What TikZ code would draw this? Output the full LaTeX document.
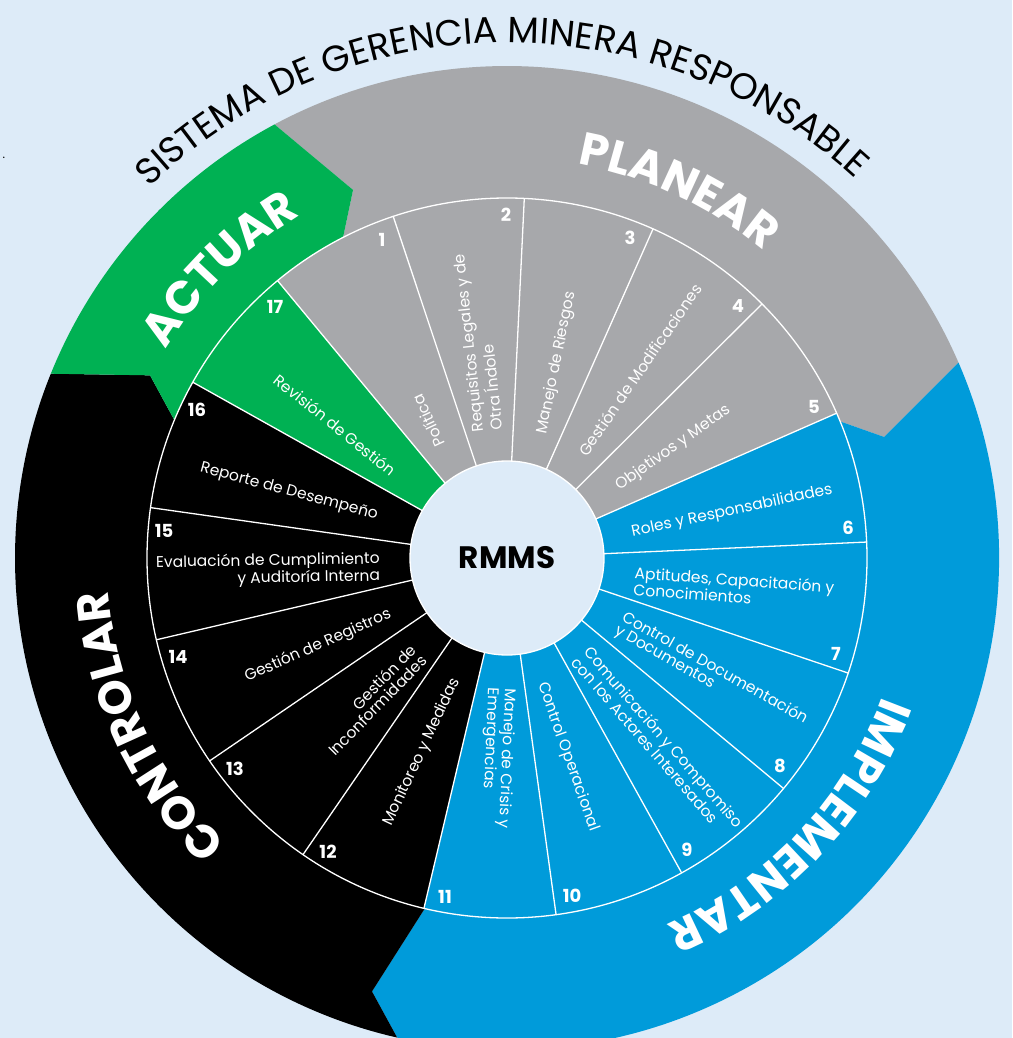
\documentclass[tikz,border=0pt]{standalone}
\usepackage{fontspec}
\setmainfont{Poppins}
\usetikzlibrary{decorations.text}
\definecolor{bgblue}{HTML}{DDEBF8}
\definecolor{segGray}{HTML}{A7A8AB}
\definecolor{segGreen}{HTML}{00B153}
\definecolor{segBlue}{HTML}{009BDA}
\newcommand\mytitlef{\fontsize{36.5}{37}\selectfont}
\newcommand\mybigf{\fontsize{46}{46}\selectfont\bfseries}
\newcommand\mylblf{\fontsize{15.5}{15}\selectfont}
\newcommand\mynumf{\fontsize{18}{18}\selectfont\bfseries}
\begin{document}
\begin{tikzpicture}[x=1pt,y=1pt,
  lbl/.style={text=white,font=\mylblf,inner sep=0pt},
  num/.style={text=white,font=\mynumf,inner sep=0pt},
  segline/.style={white,line width=1.3pt}]
\useasboundingbox (0,0) rectangle (1012,-1038);
\fill[bgblue] (0,0) rectangle (1012,-1038);
\clip (0,0) rectangle (1012,-1038);
\begin{scope}[shift={(507,-558)}]
  % outer ring sectors
  \fill[segGray] (118.2:492) arc[start angle=118.2,end angle=23.4,radius=492] -- (17.8:396) -- (22.3:360) arc[start angle=22.3,end angle=117.1,radius=360] -- (112.7:399) -- cycle;
  \fill[segBlue] (23.4:492) arc[start angle=23.4,end angle=-102.9,radius=492] -- (-107.3:454) -- (-103.2:360) arc[start angle=-103.2,end angle=22.3,radius=360] -- (17.8:396) -- cycle;
  \fill[black] (-102.9:492) arc[start angle=-102.9,end angle=-202,radius=492] -- (-207.1:401) -- (-202.5:360) arc[start angle=-202.5,end angle=-103.2,radius=360] -- (-107.3:454) -- cycle;
  \fill[segGreen] (158:492) arc[start angle=158,end angle=118.2,radius=492] -- (112.7:399) -- (117.1:360) arc[start angle=117.1,end angle=157.5,radius=360] -- (152.9:401) -- cycle;
  % inner ring segments
  \foreach \k/\c in {1/segGray,2/segGray,3/segGray,4/segGray,5/segGray,6/segBlue,7/segBlue,8/segBlue,9/segBlue,10/segBlue,11/segBlue,12/black,13/black,14/black,15/black,16/black,17/segGreen}{
    \pgfmathsetmacro\s{129.6-(\k-1)*360/17}
    \pgfmathsetmacro\e{129.6-\k*360/17}
    \fill[\c] (\s:90) -- (\s:360) arc[start angle=\s,end angle=\e,radius=360] -- (\e:90) arc[start angle=\e,end angle=\s,radius=90] -- cycle;
  }
  \foreach \k in {0,...,16}{
    \pgfmathsetmacro\b{129.6-\k*360/17}
    \draw[segline] (\b:97) -- (\b:360);
  }
  \draw[segline] (0,0) circle (360);
  \fill[bgblue] (0,0) circle (97);
  \draw[segline] (0,0) circle (97);
  % curved texts
  \path[decorate,decoration={text along path,text align=center,text={|\mytitlef|SISTEMA DE GERENCIA MINERA RESPONSABLE}}] (150.7:515) arc[start angle=150.7,end angle=30.7,radius=515];
  \path[decorate,decoration={text along path,text align=center,text color=white,text={|\mybigf|PLANEAR}}] (125:400) arc[start angle=125,end angle=5,radius=400];
  \path[decorate,decoration={text along path,text align=center,text color=white,text={|\mybigf|ACTUAR}}] (194.8:400) arc[start angle=194.8,end angle=74.8,radius=400];
  \path[decorate,decoration={text along path,text align=center,text color=white,text={|\mybigf|IMPLEMENTAR}}] (16.6:400) arc[start angle=16.6,end angle=-103.4,radius=400];
  \path[decorate,decoration={text along path,text align=center,text color=white,text={|\mybigf|CONTROLAR}}] (265.1:400) arc[start angle=265.1,end angle=145.1,radius=400];
\end{scope}
\node[font=\fontsize{31}{31}\selectfont\bfseries,text=black] (rmms) at (507,-558) {RMMS};
\node[font=\fontsize{12}{12}\selectfont,inner sep=0pt] (dot) at (4,-158) {.};
% segment labels
\node[lbl,rotate=115] (t1) at (428,-421) {Política};
\node[lbl,rotate=96,align=left] (t2) at (478,-342) {Requisitos Legales y de\\Otra Índole};
\node[lbl,rotate=78.5] (t3) at (557,-363) {Manejo de Riesgos};
\node[lbl,rotate=55.5] (t4) at (640,-370) {Gestión de Modificaciones};
\node[lbl,rotate=35.3] (t5) at (673,-448) {Objetivos y Metas};
\node[lbl,rotate=12] (t6) at (732,-511) {Roles y Responsabilidades};
\node[lbl,rotate=-4,align=left] (t7) at (734,-588) {Aptitudes, Capacitación y\\Conocimientos};
\node[lbl,rotate=-29.5,align=left] (t8) at (711,-675) {Control de Documentación\\y Documentos};
\node[lbl,rotate=-49,align=left] (t9) at (658,-742) {Comunicación y Compromiso\\con los Actores Interesados};
\node[lbl,rotate=-70.4] (t10) at (568,-757) {Control Operacional};
\node[lbl,rotate=-92.5,align=left] (t11) at (498,-758) {Manejo de Crisis y\\Emergencias};
\node[lbl,rotate=64.8] (t12) at (422,-752) {Monitoreo y Medidas};
\node[lbl,rotate=45.5,align=right] (t13) at (372,-700) {Gestión de\\Inconformidades};
\node[lbl,rotate=24] (t14) at (318,-646) {Gestión de Registros};
\node[lbl,rotate=1,align=right] (t15) at (268,-570) {Evaluación de Cumplimiento\\y Auditoría Interna};
\node[lbl,rotate=-15] (t16) at (289,-492) {Reporte de Desempeño};
\node[lbl,rotate=-38.7] (t17) at (335,-425) {Revisión de Gestión};
% numbers
\node[num] (n1) at (382,-240) {1};
\node[num] (n2) at (506,-215) {2};
\node[num] (n3) at (630,-238) {3};
\node[num] (n4) at (738,-306) {4};
\node[num] (n5) at (814,-407) {5};
\node[num] (n6) at (848,-528) {6};
\node[num] (n7) at (836,-654) {7};
\node[num] (n8) at (780,-766) {8};
\node[num] (n9) at (687,-850) {9};
\node[num] (n10) at (572,-896) {10};
\node[num] (n11) at (445,-897) {11};
\node[num] (n12) at (328,-852) {12};
\node[num] (n13) at (235,-769) {13};
\node[num] (n14) at (178,-657) {14};
\node[num] (n15) at (164,-531) {15};
\node[num] (n16) at (197,-410) {16};
\node[num] (n17) at (275,-307) {17};
\end{tikzpicture}
\end{document}
